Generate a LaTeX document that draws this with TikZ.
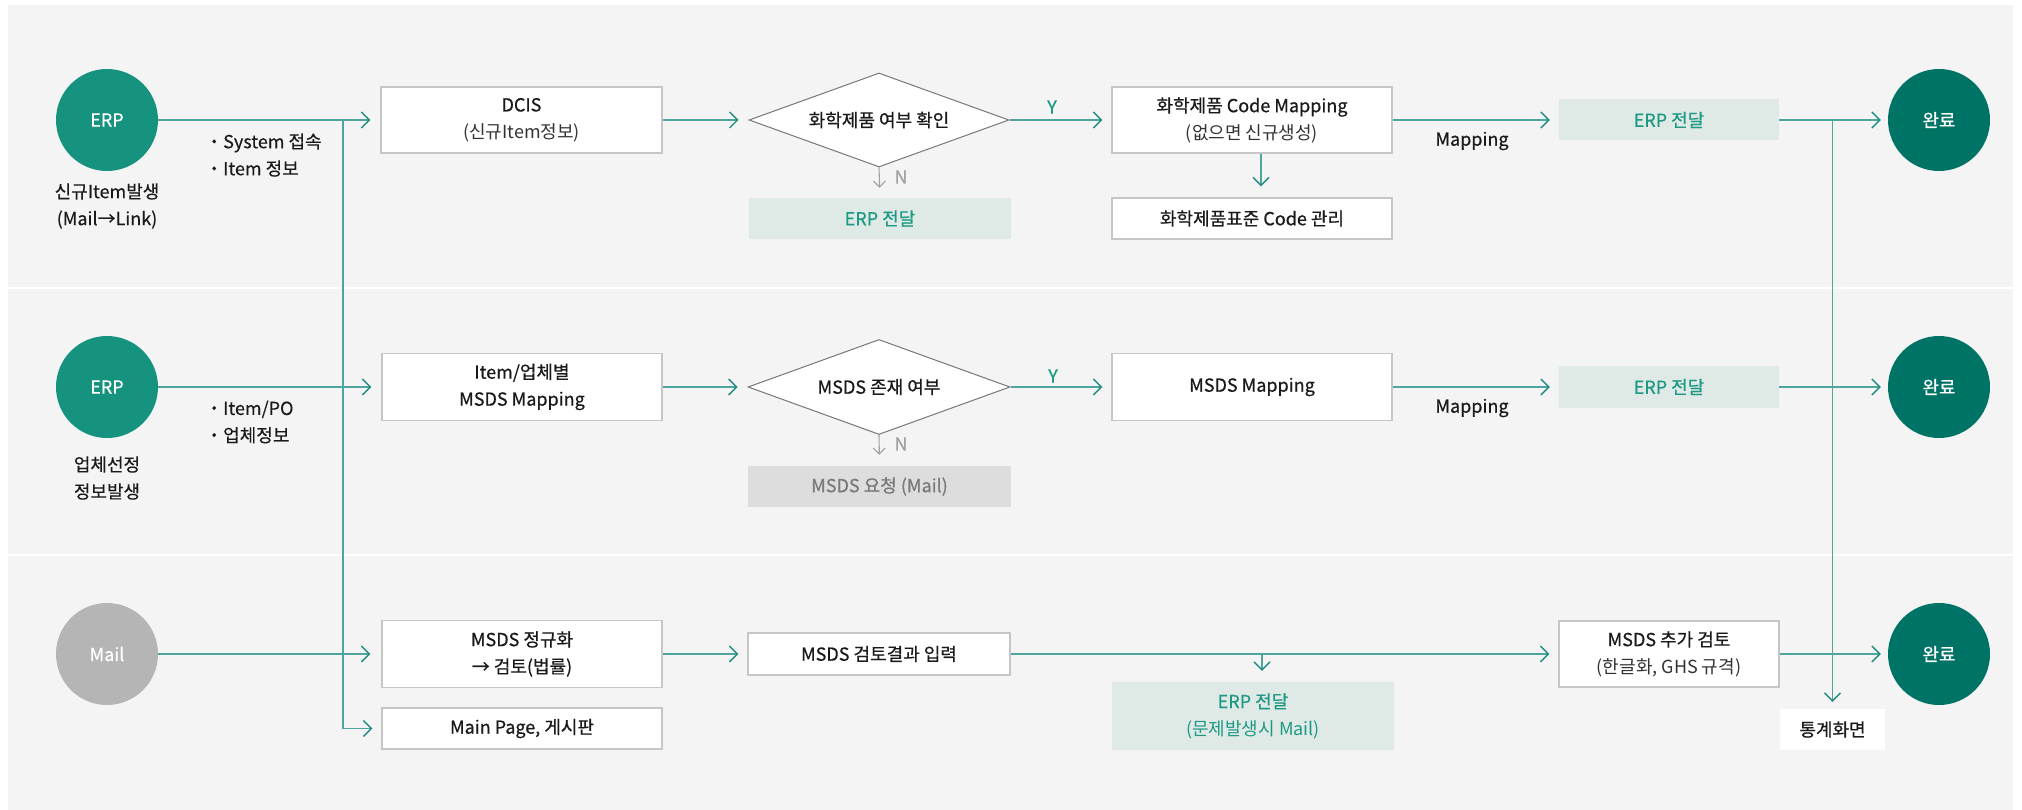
\documentclass[tikz,border=0pt]{standalone}
\usepackage{fontspec}
\setmainfont{Noto Sans CJK KR}
\newfontfamily\medfont[FakeBold=0.6]{Noto Sans CJK KR}
\newfontfamily\semifont[FakeBold=0.3]{Noto Sans CJK KR}
\usetikzlibrary{arrows.meta,shapes.geometric,calc}
\definecolor{bandbg}{HTML}{F4F4F4}
\definecolor{boxline}{HTML}{C6C6C6}
\definecolor{diaborder}{HTML}{777777}
\definecolor{tealline}{HTML}{4EA59D}
\definecolor{tealhead}{HTML}{1F8C82}
\definecolor{tealfill}{HTML}{DFE9E6}
\definecolor{tealtxt}{HTML}{1E9A84}
\definecolor{grayfill}{HTML}{DCDDDC}
\definecolor{graytxt}{HTML}{7A7A7A}
\definecolor{ngray}{HTML}{A0A0A0}
\definecolor{erpc}{HTML}{15937F}
\definecolor{donec}{HTML}{007367}
\definecolor{mailc}{HTML}{B4B5B4}
\definecolor{txt}{HTML}{1A1A1A}
\definecolor{subtxt}{HTML}{333333}
\newcommand\myfs{\fontsize{18}{27}\selectfont}
\tikzset{
  box/.style={draw=boxline, fill=white, line width=1.2pt, inner sep=0pt, align=center, font=\myfs, text=txt},
  tbox/.style={fill=tealfill, inner sep=0pt, align=center, font=\myfs, text=tealtxt},
  gbox/.style={fill=grayfill, inner sep=0pt, align=center, font=\myfs, text=graytxt},
  wbox/.style={fill=white, inner sep=0pt, align=center, font=\myfs, text=txt},
  dec/.style={diamond, draw=diaborder, fill=white, line width=1pt, aspect=2.77, inner sep=0pt, font=\myfs, text=txt},
  ball/.style={circle, minimum size=102pt, inner sep=0pt, text=white, font=\myfs\semifont},
  lbl/.style={align=center, font=\myfs\semifont, text=txt, inner sep=0pt},
  flow/.style={draw=tealline, line width=1.6pt, -{Straight Barb[length=8pt,width=16pt,line width=1.4pt,color=tealhead]}},
  nflow/.style={draw=ngray, line width=1.1pt, -{Straight Barb[length=6pt,width=12pt,line width=1.1pt]}},
}
\begin{document}
\begin{tikzpicture}[x=1pt,y=-1pt]
\useasboundingbox (0,0) rectangle (2022,810);
\fill[white] (0,0) rectangle (2022,810);
\fill[bandbg] (8,5) rectangle (2013,287);
\fill[bandbg] (8,289) rectangle (2013,554);
\fill[bandbg] (8,556) rectangle (2013,810);

% ---------- row 1 ----------
\node[ball, fill=erpc] (erp1) at (107,120) {ERP};
\node[lbl] (lbl1) at (107,206) {신규Item발생\\(Mail→Link)};
\node[lbl, anchor=west, align=left] (bul1) at (205,155) {・System 접속\\・Item 정보};
\node[box, minimum width=281pt, minimum height=66pt] (dcis) at (521.5,120) {{\medfont DCIS}\\{\color{subtxt}(신규Item정보)}};
\node[dec, minimum width=260pt, minimum height=94pt] (d1) at (879,120) {{\medfont 화학제품 여부 확인}};
\node[tbox, minimum width=262pt, minimum height=41pt] (n1) at (880,218.5) {{\medfont ERP 전달}};
\node[box, minimum width=280pt, minimum height=66pt] (cm) at (1252,120) {{\medfont 화학제품 Code Mapping}\\{\color{subtxt}(없으면 신규생성)}};
\node[box, minimum width=280pt, minimum height=41pt] (std) at (1252,218.5) {{\medfont 화학제품표준 Code 관리}};
\node[tbox, minimum width=220pt, minimum height=41pt] (t1) at (1669,120) {{\medfont ERP 전달}};
\node[ball, fill=donec] (done1) at (1939,120) {{\medfont 완료}};

\node[lbl, text=tealtxt] (y1) at (1052,107) {{\medfont Y}};
\node[lbl, text=ngray] (nl1) at (901,177) {{\medfont N}};
\node[lbl] (map1) at (1472,141) {{\medfont Mapping}};

% ---------- row 2 ----------
\node[ball, fill=erpc] (erp2) at (107,387) {ERP};
\node[lbl] (lbl2) at (107,478) {업체선정\\정보발생};
\node[lbl, anchor=west, align=left] (bul2) at (205,422) {・Item/PO\\・업체정보};
\node[box, minimum width=280pt, minimum height=67pt] (mm) at (522,387) {{\medfont Item/업체별}\\{\medfont MSDS Mapping}};
\node[dec, minimum width=262pt, minimum height=95pt] (d2) at (879,387) {{\medfont MSDS 존재 여부}};
\node[gbox, minimum width=263pt, minimum height=41pt] (n2) at (879.5,486.5) {{\medfont MSDS 요청 (Mail)}};
\node[box, minimum width=280pt, minimum height=67pt] (msm) at (1252,387) {{\medfont MSDS Mapping}};
\node[tbox, minimum width=220pt, minimum height=41pt] (t2) at (1669,387) {{\medfont ERP 전달}};
\node[ball, fill=donec] (done2) at (1939,387) {{\medfont 완료}};

\node[lbl, text=tealtxt] (y2) at (1053,376) {{\medfont Y}};
\node[lbl, text=ngray] (nl2) at (901,444) {{\medfont N}};
\node[lbl] (map2) at (1472,408) {{\medfont Mapping}};

% ---------- row 3 ----------
\node[ball, fill=mailc] (mail) at (107,654) {Mail};
\node[box, minimum width=280pt, minimum height=67pt] (norm) at (522,654) {{\medfont MSDS 정규화}\\{\medfont → 검토(법률)}};
\node[box, minimum width=280pt, minimum height=41pt] (main) at (522,728.5) {{\medfont Main Page, 게시판}};
\node[box, minimum width=262pt, minimum height=42pt] (rev) at (879,654) {{\medfont MSDS 검토결과 입력}};
\node[tbox, minimum width=282pt, minimum height=68pt] (erp3) at (1253,716) {{\medfont ERP 전달}\\(문제발생시 Mail)};
\node[box, minimum width=220pt, minimum height=66pt] (add) at (1669,654) {{\medfont MSDS 추가 검토}\\{\color{subtxt}(한글화, GHS 규격)}};
\node[ball, fill=donec] (done3) at (1939,654) {{\medfont 완료}};
\node[wbox, minimum width=105pt, minimum height=41pt] (stat) at (1832.5,729.5) {{\medfont 통계화면}};

% ---------- connectors ----------
\coordinate (j1) at (343,120);
\coordinate (j2) at (stat.north |- done1.west);

\draw[flow, shorten >=10pt] (erp1) -- (dcis);
\draw[flow, shorten >=10pt] (dcis) -- (d1);
\draw[flow, shorten >=9pt] (d1) -- (cm);
\draw[nflow, shorten >=10pt] (d1.south) -- (n1.north);
\draw[flow, shorten >=11pt] ([xshift=9pt]cm.south) -- ([xshift=9pt]std.north);
\draw[flow, shorten >=9pt] (cm) -- (t1);
\draw[flow, shorten >=7pt] (t1) -- (done1);

\draw[flow, shorten >=10pt] (erp2) -- (mm);
\draw[flow, shorten >=10pt] (mm) -- (d2);
\draw[flow, shorten >=9pt] (d2) -- (msm);
\draw[nflow, shorten >=11pt] (d2.south) -- (n2.north);
\draw[flow, shorten >=9pt] (msm) -- (t2);
\draw[flow, shorten >=7pt] (t2) -- (done2);

\draw[flow, shorten >=11pt] (mail) -- (norm);
\draw[flow, shorten >=9pt] (norm) -- (rev);
\draw[flow, shorten >=9pt] (rev) -- (add);
\draw[flow, shorten >=11pt] ([xshift=9pt]erp3.north |- rev.east) -- ([xshift=9pt]erp3.north);
\draw[flow, shorten >=7pt] (add) -- (done3);

\draw[flow, shorten >=9pt] (j1) |- (main.west);
\draw[flow, shorten >=7pt] (j2) -- (stat.north);
\end{tikzpicture}
\end{document}
